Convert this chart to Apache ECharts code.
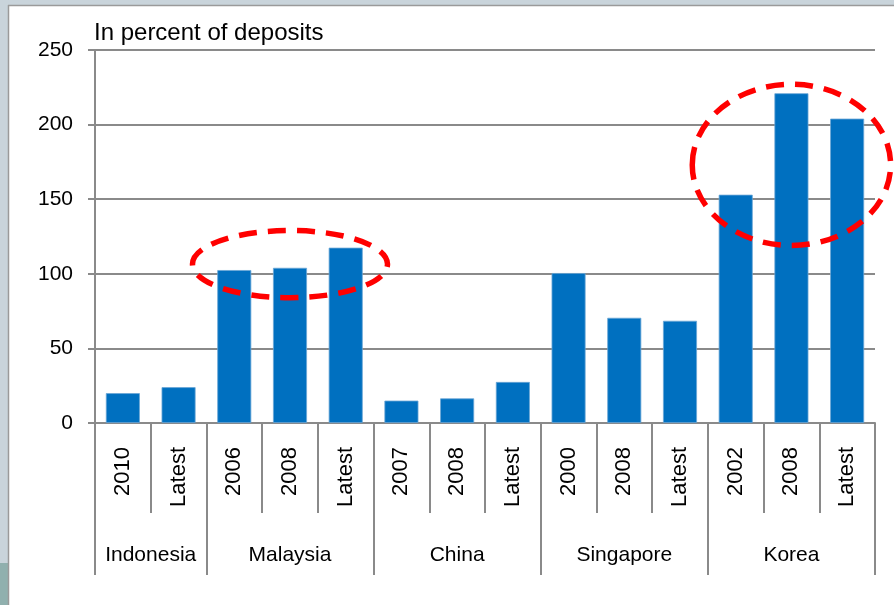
<!DOCTYPE html>
<html>
<head>
<meta charset="utf-8">
<script src="https://cdn.jsdelivr.net/npm/echarts@6/dist/echarts.min.js"></script>
<style>
html,body{margin:0;padding:0;background:#fff;}
#c{width:894px;height:605px;}
</style>
</head>
<body>
<div id="c"></div>
<script>
// ---- data ----
const categories = ['2010','Latest','2006','2008','Latest','2007','2008','Latest','2000','2008','Latest','2002','2008','Latest'];
const values = [20, 24, 102.5, 104, 117.5, 15, 16.5, 27.5, 100.5, 70.5, 68.5, 153, 221, 204];
const groups = ['Indonesia','Malaysia','China','Singapore','Korea'];
const groupSizes = [2, 3, 3, 3, 3];
const yTicks = [0, 50, 100, 150, 200, 250];
const titleText = 'In percent of deposits';
// annotation ellipses: center category index (band centre), center value, half-width in categories, half-height in value units
const highlightCat = [3, 12];
const highlightVal = [106.5, 173];
const highlightHalfW = [1.75, 1.78];
const highlightHalfH = [22.5, 54];

// ---- build group axis (half-band points) ----
const nHalf = categories.length * 2 + 1;
const groupAxisData = new Array(nHalf).fill('');
const boundarySet = new Set([0]);
const labelIdx = new Set();
let acc = 0;
groups.forEach((g, i) => {
  const mid = acc + groupSizes[i];
  groupAxisData[mid] = g;
  labelIdx.add(mid);
  acc += groupSizes[i] * 2;
  boundarySet.add(acc);
});

const FONT = 'Liberation Sans';
const AX = '#8a8a8a';

const chart = echarts.init(document.getElementById('c'));
chart.setOption({
  animation: false,
  backgroundColor: '#fff',
  textStyle: { fontFamily: FONT, color: '#000' },
  title: {
    text: titleText,
    left: 94, top: 21, padding: 0,
    textStyle: { fontSize: 24, fontWeight: 'normal', color: '#000', fontFamily: FONT }
  },
  grid: { left: 95, right: 19, top: 50, bottom: 182, containLabel: false },
  xAxis: [
    {
      type: 'category', position: 'bottom', data: categories,
      axisLine: { show: true, lineStyle: { color: AX, width: 2 } },
      axisTick: { show: true, interval: 0, length: 90, lineStyle: { color: AX, width: 2 } },
      axisLabel: { interval: 0, rotate: 90, margin: 24, fontSize: 22, color: '#000', fontFamily: FONT },
      splitLine: { show: false }
    },
    {
      type: 'category', position: 'bottom', data: groupAxisData, boundaryGap: false,
      axisLine: { show: false },
      axisTick: { show: true, length: 152, interval: (idx) => boundarySet.has(idx), lineStyle: { color: AX, width: 2 } },
      axisLabel: { interval: (idx) => labelIdx.has(idx), margin: 122, fontSize: 21, color: '#000', fontFamily: FONT },
      splitLine: { show: false }
    }
  ],
  yAxis: {
    type: 'value', min: yTicks[0], max: yTicks[yTicks.length - 1], interval: yTicks[1] - yTicks[0],
    axisLine: { show: true, lineStyle: { color: AX, width: 2 } },
    axisTick: { show: true, length: 7, lineStyle: { color: AX, width: 2 } },
    axisLabel: { margin: 22, fontSize: 21, color: '#000', fontFamily: FONT },
    splitLine: { show: true, lineStyle: { color: AX, width: 2 } }
  },
  series: [{
    type: 'bar', xAxisIndex: 0, data: values, barWidth: 34,
    itemStyle: { color: '#0070C0', borderColor: '#6aa6d6', borderWidth: 0.8 }
  }],
  graphic: []
});

// ---- frame + annotations ----
const gfx = [
  { type: 'rect', shape: { x: 0, y: 0, width: 894, height: 5 }, style: { fill: '#c9d4db' }, z: 100 },
  { type: 'rect', shape: { x: 0, y: 0, width: 8, height: 605 }, style: { fill: '#c9d4db' }, z: 100 },
  { type: 'rect', shape: { x: 0, y: 563, width: 8, height: 42 }, style: { fill: '#90b0ae' }, z: 100 },
  { type: 'line', shape: { x1: 8, y1: 5.5, x2: 894, y2: 5.5 }, style: { stroke: '#9a9a9a', lineWidth: 1.5 }, z: 100 },
  { type: 'line', shape: { x1: 8.5, y1: 5, x2: 8.5, y2: 605 }, style: { stroke: '#9a9a9a', lineWidth: 1.5 }, z: 100 }
];
highlightCat.forEach((c, i) => {
  const ctr = chart.convertToPixel({ xAxisIndex: 0, yAxisIndex: 0 }, [c, highlightVal[i]]);
  const p0 = chart.convertToPixel({ xAxisIndex: 0 }, 0);
  const p1 = chart.convertToPixel({ xAxisIndex: 0 }, 1);
  const band = p1 - p0;
  const top = chart.convertToPixel({ yAxisIndex: 0 }, highlightVal[i] + highlightHalfH[i]);
  gfx.push({
    type: 'ellipse',
    shape: { cx: ctr[0], cy: ctr[1], rx: highlightHalfW[i] * band, ry: ctr[1] - top },
    style: { fill: null, stroke: '#ff0000', lineWidth: 5.5, lineDash: [18, 11] },
    z: 50
  });
});
chart.setOption({ graphic: gfx });
</script>
</body>
</html>
